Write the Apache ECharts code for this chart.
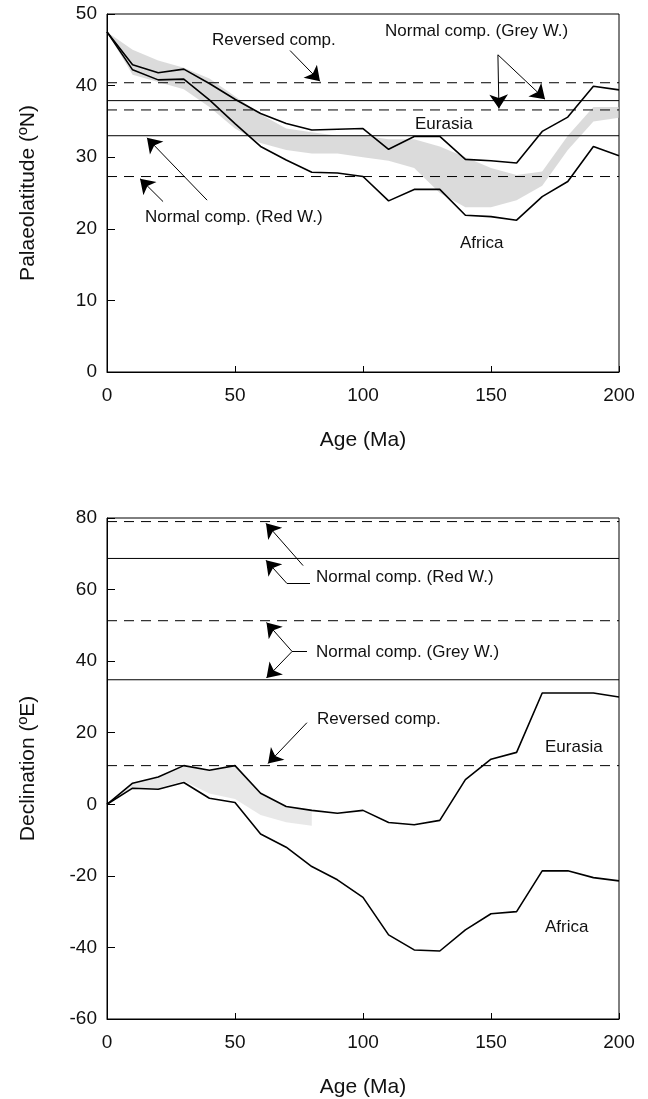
<!DOCTYPE html>
<html><head><meta charset="utf-8">
<script src="https://cdn.jsdelivr.net/npm/echarts@6/dist/echarts.min.js"></script>
<style>html,body{margin:0;padding:0;background:#fff}#c{width:648px;height:1099px}</style>
</head><body><div id="c"></div>
<script>
// ---------- DATA ----------
const ages = [0,10,20,30,40,50,60,70,80,90,100,110,120,130,140,150,160,170,180,190,200];
const xTicks = [0,50,100,150,200];

// Palaeolatitude (ºN)
const eurasiaLat = [47.5,42.9,41.8,42.3,40.3,38.1,36.1,34.7,33.8,33.9,34.0,31.1,32.9,32.9,29.7,29.5,29.2,33.6,35.6,39.9,39.4];
const africaLat  = [47.5,42.2,40.8,40.9,38.0,34.7,31.5,29.6,27.9,27.8,27.3,23.9,25.5,25.5,21.9,21.7,21.2,24.5,26.6,31.5,30.2];
const latBandLow  = [47.5,41.5,40.5,39.5,37.0,34.0,32.0,31.0,30.5,30.5,30.0,29.5,28.5,25.0,23.0,23.0,24.0,26.0,31.0,35.0,35.5];
const latBandHigh = [47.5,45.0,43.5,42.5,41.0,38.5,36.0,34.0,33.5,33.0,33.0,32.5,32.5,31.5,30.0,28.5,27.5,28.0,33.0,37.0,37.0];
const latSolidLevels  = [37.9, 33.0];
const latDashedLevels = [40.4, 36.6, 27.3];

// Declination (ºE)
const eurasiaDec = [0,5.9,7.6,10.8,9.5,10.8,3.1,-0.6,-1.7,-2.5,-1.7,-5.1,-5.7,-4.5,6.9,12.6,14.5,31.1,31.1,31.1,30.0];
const africaDec  = [0,4.5,4.2,6.1,1.7,0.5,-8.3,-12.0,-17.4,-21.1,-26.0,-36.5,-40.7,-41.0,-35.1,-30.6,-30.0,-18.6,-18.6,-20.5,-21.4];
const decBandAges = [0,10,20,30,40,50,60,70,80];
const decBandLow  = [0,4.5,4.5,6.5,3.0,1.5,-3.0,-5.0,-6.0];
const decBandHigh = [0,6.0,7.5,10.5,9.5,10.5,3.0,-0.5,-1.5];
const decSolidLevels  = [68.7, 34.8];
const decDashedLevels = [79.0, 51.3, 10.8];

// Annotation arrows (data coordinates; last point is the arrow tip)
const latArrows = [
  [[71.5,44.9],[83.2,40.6]],
  [[152.7,44.3],[153.1,36.8]],
  [[152.7,44.3],[171.1,38.1]],
  [[39.1,24.0],[15.6,32.7]],
  [[21.9,23.8],[12.9,27.0]]
];
const decArrows = [
  [[79.3,61.7],[70.3,61.7],[62.1,68.2]],
  [[76.6,66.7],[62.1,78.5]],
  [[78.1,42.7],[72.3,42.7],[62.3,50.8]],
  [[78.1,42.7],[72.3,42.7],[62.3,35.3]],
  [[78.1,22.8],[62.9,11.4]]
];

// ---------- CHART ----------
const FONT = '"Liberation Sans", Arial, Helvetica, sans-serif';
const chart = echarts.init(document.getElementById('c'), null, {renderer:'canvas'});

function xAxisDef(gi){
  return {gridIndex:gi, type:'value', min:0, max:200, interval:50,
    name:'Age (Ma)', nameLocation:'middle', nameGap:58,
    nameTextStyle:{fontSize:21, color:'#111', fontFamily:FONT},
    axisLine:{onZero:false, lineStyle:{color:'#000', width:1}},
    axisTick:{inside:true, length:6, lineStyle:{color:'#000'}},
    axisLabel:{fontSize:19, color:'#111', fontFamily:FONT, margin:14},
    splitLine:{show:false}};
}
function yAxisDef(gi, min, max, interval, name){
  return {gridIndex:gi, type:'value', min:min, max:max, interval:interval,
    name:name, nameLocation:'middle', nameGap:68,
    nameTextStyle:{fontSize:21, color:'#111', fontFamily:FONT},
    axisLine:{onZero:false, lineStyle:{color:'#000', width:1}},
    axisTick:{inside:true, length:8, lineStyle:{color:'#000'}},
    axisLabel:{fontSize:19, color:'#111', fontFamily:FONT, margin:10},
    splitLine:{show:false}};
}
function band(gi, xs, lo, hi, color){
  return {type:'custom', xAxisIndex:gi, yAxisIndex:gi, z:1, silent:true,
    data:[[xs[0], lo[0]]],
    renderItem:function(params, api){
      const pts = [];
      for (let i=0;i<xs.length;i++) pts.push(api.coord([xs[i], hi[i]]));
      for (let i=xs.length-1;i>=0;i--) pts.push(api.coord([xs[i], lo[i]]));
      return {type:'polygon', shape:{points:pts}, style:{fill:color, stroke:null}};
    }};
}
function level(gi, v, dashed){
  return {type:'line', xAxisIndex:gi, yAxisIndex:gi, z:3, symbol:'none', silent:true,
    data:[[0,v],[200,v]],
    lineStyle:{color:'#000', width:1, type: dashed ? [10,7] : 'solid'}};
}
function curve(gi, ys){
  return {type:'line', xAxisIndex:gi, yAxisIndex:gi, z:4, symbol:'none', silent:true,
    data: ages.map((a,i)=>[a, ys[i]]),
    lineStyle:{color:'#000', width:1.6}};
}
function arrowSeries(gi, list){
  const plain = [], tips = [];
  list.forEach(c=>{
    for (let i=0;i<c.length-2;i++) plain.push({coords:[c[i], c[i+1]]});
    tips.push({coords:[c[c.length-2], c[c.length-1]]});
  });
  const base = {type:'lines', coordinateSystem:'cartesian2d', xAxisIndex:gi, yAxisIndex:gi, z:5,
    silent:true, lineStyle:{color:'#000', width:1, opacity:1, curveness:0}};
  return [
    Object.assign({}, base, {symbol:['none','none'], data:plain}),
    Object.assign({}, base, {symbol:['none','arrow'], symbolSize:[10,14], data:tips, itemStyle:{color:'#000'}})
  ];
}
function txt(x, y, s){
  return {type:'text', x:x, y:y, z:10,
    style:{text:s, fill:'#111', font:'17px '+FONT, verticalAlign:'middle', textVerticalAlign:'middle'}};
}

const series = [
  band(0, ages, latBandLow, latBandHigh, 'rgba(195,195,195,0.6)'),
  band(1, decBandAges, decBandLow, decBandHigh, 'rgba(210,210,210,0.5)'),
  ...latSolidLevels.map(v=>level(0,v,false)),
  ...latDashedLevels.map(v=>level(0,v,true)),
  ...decSolidLevels.map(v=>level(1,v,false)),
  ...decDashedLevels.map(v=>level(1,v,true)),
  curve(0, eurasiaLat), curve(0, africaLat),
  curve(1, eurasiaDec), curve(1, africaDec),
  ...arrowSeries(0, latArrows), ...arrowSeries(1, decArrows)
];

chart.setOption({
  animation:false,
  backgroundColor:'#fff',
  grid:[
    {left:107, top:14, width:512, height:358, show:true, borderColor:'#000', borderWidth:1, backgroundColor:'transparent'},
    {left:107, top:518, width:512, height:501, show:true, borderColor:'#000', borderWidth:1, backgroundColor:'transparent'}
  ],
  xAxis:[xAxisDef(0), xAxisDef(1)],
  yAxis:[yAxisDef(0,0,50,10,'Palaeolatitude (ºN)'), yAxisDef(1,-60,80,20,'Declination (ºE)')],
  series: series,
  graphic:[
    txt(212, 40, 'Reversed comp.'),
    txt(385, 31, 'Normal comp. (Grey W.)'),
    txt(415, 124, 'Eurasia'),
    txt(460, 243, 'Africa'),
    txt(145, 217, 'Normal comp. (Red W.)'),
    txt(316, 577, 'Normal comp. (Red W.)'),
    txt(316, 652, 'Normal comp. (Grey W.)'),
    txt(317, 719, 'Reversed comp.'),
    txt(545, 747, 'Eurasia'),
    txt(545, 927, 'Africa')
  ]
});
</script>
</body></html>
